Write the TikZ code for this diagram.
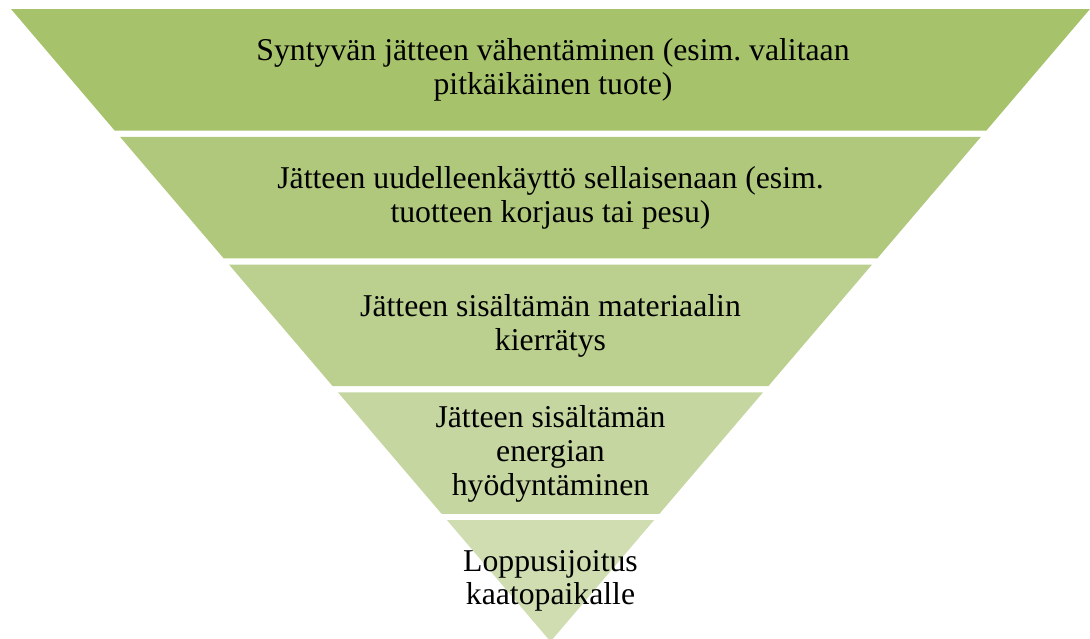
\documentclass[tikz,border=0pt]{standalone}
\usepackage{fontspec}
\setmainfont{Liberation Serif}
\frenchspacing

\definecolor{layerA}{HTML}{A6C26B}
\definecolor{layerB}{HTML}{B0C87C}
\definecolor{layerC}{HTML}{BBCF8E}
\definecolor{layerD}{HTML}{C5D6A0}
\definecolor{layerE}{HTML}{CFDDB1}

\tikzset{
  stagetext/.style={align=center, inner sep=0pt, font=\fontsize{23.8}{25.2}\selectfont}
}

\begin{document}
\begin{tikzpicture}[x=0.75pt, y=-0.75pt]
      % Fix the size of the picture
      \useasboundingbox (0,0) rectangle (1090,639);
      \clip (0,0) rectangle (1090,639);

      % Draw the five layers of the upside-down pyramid
      \foreach \i/\col in {0/layerA, 1/layerB, 2/layerC, 3/layerD, 4/layerE} {
          \pgfmathsetmacro{\yt}{9+127.75*\i}
          \pgfmathsetmacro{\yb}{\yt+121.5}
          \pgfmathsetmacro{\wt}{0.853*(641.5-\yt)}
          \pgfmathsetmacro{\wb}{0.853*(641.5-\yb)}
          \fill[\col] (550.5-\wt,\yt) -- (550.5+\wt,\yt) -- (550.5+\wb,\yb) -- (550.5-\wb,\yb) -- cycle;
      }

      % Add the texts of the layers
      \node[stagetext] (reduce) at (553,69.75) {Syntyvän jätteen vähentäminen (esim. valitaan\\pitkäikäinen tuote)};
      \node[stagetext] (reuse) at (550.5,198) {Jätteen uudelleenkäyttö sellaisenaan (esim.\\tuotteen korjaus tai pesu)};
      \node[stagetext] (recycle) at (550.5,326) {Jätteen sisältämän materiaalin\\kierrätys};
      \node[stagetext] (energy) at (550.5,454) {Jätteen sisältämän\\energian\\hyödyntäminen};
      \node[stagetext] (landfill) at (550.5,581) {Loppusijoitus\\kaatopaikalle};
\end{tikzpicture}
\end{document}
